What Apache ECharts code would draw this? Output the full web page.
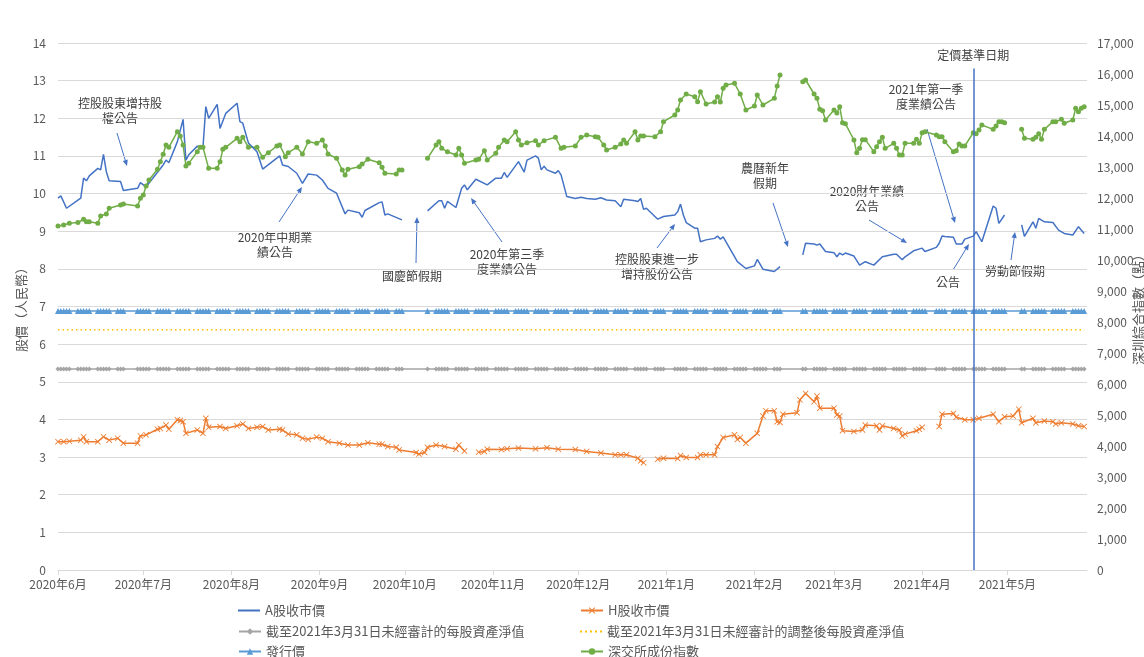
<!DOCTYPE html>
<html>
<head>
<meta charset="utf-8">
<title>股價走勢</title>
<script src="https://cdn.jsdelivr.net/npm/echarts@6/dist/echarts.min.js"></script>
<style>
  html, body { margin: 0; padding: 0; background: #fff; }
  #chart { width: 1144px; height: 657px; }
</style>
</head>
<body>
<div id="chart"></div>
<script>
// 常數線（人民幣）
const ISSUE_PRICE = 6.88;
const NAV = 5.34;
const ADJ_NAV = 6.38;

// A股交易所休市日（工作日）
const HOLIDAYS = ['2020-06-25', '2020-06-26', '2020-10-01', '2020-10-02', '2020-10-05', '2020-10-06',
    '2020-10-07', '2020-10-08', '2021-01-01', '2021-02-11', '2021-02-12', '2021-02-15', '2021-02-16',
    '2021-02-17', '2021-04-05', '2021-05-03', '2021-05-04', '2021-05-05'];

const FIRST_DAY = '2020-06-01';
const LAST_DAY = '2021-05-28';

// A股收市價
const aShare = [
    ['2020-06-01', 9.88], ['2020-06-02', 9.94], ['2020-06-04', 9.61], ['2020-06-09', 9.88], ['2020-06-10', 10.41],
    ['2020-06-11', 10.34], ['2020-06-12', 10.47], ['2020-06-15', 10.67], ['2020-06-16', 10.63], ['2020-06-17', 11.04],
    ['2020-06-18', 10.58], ['2020-06-19', 10.34], ['2020-06-23', 10.32], ['2020-06-24', 10.08], ['2020-06-29', 10.14],
    ['2020-06-30', 10.29], ['2020-07-02', 10.18], ['2020-07-08', 10.76], ['2020-07-09', 10.89], ['2020-07-10', 10.82],
    ['2020-07-13', 11.38], ['2020-07-15', 11.97], ['2020-07-16', 10.89], ['2020-07-17', 11.03], ['2020-07-20', 11.26],
    ['2020-07-22', 11.23], ['2020-07-23', 12.31], ['2020-07-24', 12.00], ['2020-07-27', 12.37], ['2020-07-28', 11.73],
    ['2020-07-30', 12.13], ['2020-08-03', 12.40], ['2020-08-04', 11.91], ['2020-08-05', 11.87], ['2020-08-07', 11.34],
    ['2020-08-10', 11.11], ['2020-08-12', 10.65], ['2020-08-18', 11.00], ['2020-08-19', 10.76], ['2020-08-21', 10.72],
    ['2020-08-24', 10.54], ['2020-08-26', 10.27], ['2020-08-28', 10.52], ['2020-08-31', 10.49], ['2020-09-02', 10.36],
    ['2020-09-04', 10.14], ['2020-09-07', 10.01], ['2020-09-10', 9.46], ['2020-09-11', 9.56], ['2020-09-15', 9.49],
    ['2020-09-16', 9.37], ['2020-09-17', 9.55], ['2020-09-22', 9.76], ['2020-09-23', 9.78], ['2020-09-24', 9.43],
    ['2020-09-25', 9.46], ['2020-09-30', 9.30], ['2020-10-01', null],
    ['2020-10-09', 9.54], ['2020-10-13', 9.81], ['2020-10-14', 9.81], ['2020-10-15', 9.61], ['2020-10-16', 9.79],
    ['2020-10-19', 9.63], ['2020-10-21', 10.14], ['2020-10-22', 10.23], ['2020-10-23', 10.10], ['2020-10-26', 10.38],
    ['2020-10-30', 10.23], ['2020-11-02', 10.41], ['2020-11-04', 10.41], ['2020-11-05', 10.56], ['2020-11-06', 10.43],
    ['2020-11-10', 10.85], ['2020-11-12', 10.57], ['2020-11-13', 10.89], ['2020-11-16', 11.00], ['2020-11-17', 10.94],
    ['2020-11-18', 10.63], ['2020-11-19', 10.73], ['2020-11-20', 10.63], ['2020-11-23', 10.54], ['2020-11-24', 10.61],
    ['2020-11-25', 10.49], ['2020-11-27', 9.92], ['2020-11-30', 9.87], ['2020-12-02', 9.90], ['2020-12-04', 9.87],
    ['2020-12-07', 9.85], ['2020-12-09', 9.89], ['2020-12-11', 9.83], ['2020-12-14', 9.81], ['2020-12-16', 9.65],
    ['2020-12-17', 9.85], ['2020-12-21', 9.81], ['2020-12-22', 9.79], ['2020-12-23', 9.87], ['2020-12-24', 9.58],
    ['2020-12-25', 9.61], ['2020-12-29', 9.32], ['2020-12-31', 9.39], ['2021-01-04', 9.43], ['2021-01-05', 9.52],
    ['2021-01-06', 9.72], ['2021-01-07', 9.43], ['2021-01-08', 9.23], ['2021-01-11', 9.08], ['2021-01-12', 9.08],
    ['2021-01-13', 8.72], ['2021-01-15', 8.77], ['2021-01-18', 8.81], ['2021-01-19', 8.87], ['2021-01-20', 8.79],
    ['2021-01-21', 8.85], ['2021-01-26', 8.19], ['2021-01-29', 8.01], ['2021-02-01', 8.08], ['2021-02-02', 8.25],
    ['2021-02-04', 7.99], ['2021-02-08', 7.93], ['2021-02-10', 8.06], ['2021-02-11', null],
    ['2021-02-18', 8.37], ['2021-02-19', 8.68], ['2021-02-22', 8.66], ['2021-02-23', 8.63], ['2021-02-24', 8.66],
    ['2021-02-26', 8.46], ['2021-03-01', 8.43], ['2021-03-02', 8.32], ['2021-03-03', 8.42], ['2021-03-04', 8.37],
    ['2021-03-05', 8.42], ['2021-03-08', 8.34], ['2021-03-10', 8.10], ['2021-03-12', 8.19], ['2021-03-15', 8.10],
    ['2021-03-18', 8.32], ['2021-03-22', 8.39], ['2021-03-23', 8.39], ['2021-03-25', 8.24], ['2021-03-26', 8.32],
    ['2021-03-29', 8.48], ['2021-04-01', 8.55], ['2021-04-02', 8.46], ['2021-04-06', 8.57], ['2021-04-07', 8.68],
    ['2021-04-08', 8.87], ['2021-04-09', 8.86], ['2021-04-12', 8.84], ['2021-04-13', 8.66], ['2021-04-15', 8.66],
    ['2021-04-16', 8.79], ['2021-04-19', 8.87], ['2021-04-20', 8.99], ['2021-04-22', 8.72], ['2021-04-26', 9.67],
    ['2021-04-27', 9.61], ['2021-04-28', 9.21], ['2021-04-30', 9.43], ['2021-05-03', null],
    ['2021-05-06', 9.17], ['2021-05-07', 8.86], ['2021-05-10', 9.25], ['2021-05-11', 9.08], ['2021-05-12', 9.34],
    ['2021-05-14', 9.25], ['2021-05-17', 9.23], ['2021-05-19', 9.03], ['2021-05-21', 8.94], ['2021-05-24', 8.90],
    ['2021-05-26', 9.12], ['2021-05-28', 8.94]
];

// H股收市價（折合人民幣）
const hShare = [
    ['2020-06-01', 3.41], ['2020-06-03', 3.41], ['2020-06-05', 3.42], ['2020-06-09', 3.45], ['2020-06-10', 3.54],
    ['2020-06-11', 3.41], ['2020-06-15', 3.41], ['2020-06-17', 3.54], ['2020-06-19', 3.45], ['2020-06-22', 3.50],
    ['2020-06-24', 3.37], ['2020-06-29', 3.37], ['2020-06-30', 3.56], ['2020-07-02', 3.59], ['2020-07-06', 3.74],
    ['2020-07-07', 3.76], ['2020-07-09', 3.85], ['2020-07-10', 3.74], ['2020-07-13', 3.99], ['2020-07-14', 3.97],
    ['2020-07-15', 3.94], ['2020-07-16', 3.63], ['2020-07-20', 3.72], ['2020-07-22', 3.63], ['2020-07-23', 4.03],
    ['2020-07-24', 3.79], ['2020-07-28', 3.81], ['2020-07-30', 3.76], ['2020-08-03', 3.83], ['2020-08-05', 3.88],
    ['2020-08-07', 3.76], ['2020-08-10', 3.79], ['2020-08-12', 3.81], ['2020-08-14', 3.72], ['2020-08-18', 3.74],
    ['2020-08-19', 3.72], ['2020-08-21', 3.61], ['2020-08-24', 3.59], ['2020-08-26', 3.50], ['2020-08-28', 3.47],
    ['2020-08-31', 3.53], ['2020-09-02', 3.50], ['2020-09-04', 3.41], ['2020-09-08', 3.37], ['2020-09-11', 3.32],
    ['2020-09-15', 3.32], ['2020-09-18', 3.38], ['2020-09-22', 3.34], ['2020-09-23', 3.34], ['2020-09-25', 3.28],
    ['2020-09-28', 3.26], ['2020-09-29', 3.19], ['2020-10-05', 3.12], ['2020-10-06', 3.08], ['2020-10-08', 3.12],
    ['2020-10-09', 3.26], ['2020-10-12', 3.32], ['2020-10-15', 3.28], ['2020-10-19', 3.21], ['2020-10-20', 3.32],
    ['2020-10-22', 3.16], ['2020-10-26', null], ['2020-10-27', 3.13], ['2020-10-29', 3.15], ['2020-10-30', 3.21],
    ['2020-11-04', 3.20], ['2020-11-06', 3.22], ['2020-11-10', 3.24], ['2020-11-16', 3.22], ['2020-11-20', 3.25],
    ['2020-11-24', 3.21], ['2020-11-30', 3.20], ['2020-12-04', 3.15], ['2020-12-09', 3.11], ['2020-12-14', 3.06],
    ['2020-12-16', 3.06], ['2020-12-18', 3.06], ['2020-12-22', 2.97], ['2020-12-23', 2.90], ['2020-12-24', 2.85],
    ['2020-12-25', null], ['2020-12-29', 2.94], ['2020-12-31', 2.97], ['2021-01-05', 2.96], ['2021-01-06', 3.04],
    ['2021-01-08', 2.99], ['2021-01-12', 2.99], ['2021-01-13', 3.06], ['2021-01-15', 3.06], ['2021-01-18', 3.06],
    ['2021-01-19', 3.28], ['2021-01-21', 3.52], ['2021-01-25', 3.59], ['2021-01-26', 3.47], ['2021-01-27', 3.52],
    ['2021-01-29', 3.37], ['2021-02-02', 3.63], ['2021-02-04', 4.09], ['2021-02-05', 4.23], ['2021-02-08', 4.23],
    ['2021-02-09', 3.94], ['2021-02-10', 3.92], ['2021-02-11', 4.14], ['2021-02-16', 4.18], ['2021-02-17', 4.52],
    ['2021-02-19', 4.69], ['2021-02-22', 4.47], ['2021-02-23', 4.62], ['2021-02-24', 4.30], ['2021-03-01', 4.30],
    ['2021-03-02', 4.12], ['2021-03-03', 4.09], ['2021-03-04', 3.70], ['2021-03-08', 3.68], ['2021-03-11', 3.72],
    ['2021-03-12', 3.85], ['2021-03-16', 3.83], ['2021-03-17', 3.72], ['2021-03-18', 3.83], ['2021-03-22', 3.76],
    ['2021-03-24', 3.72], ['2021-03-25', 3.56], ['2021-03-26', 3.61], ['2021-03-30', 3.70], ['2021-03-31', 3.74],
    ['2021-04-01', 3.79], ['2021-04-02', null], ['2021-04-07', 3.81], ['2021-04-08', 4.14], ['2021-04-12', 4.16],
    ['2021-04-13', 4.06], ['2021-04-16', 3.99], ['2021-04-19', 3.99], ['2021-04-21', 4.03], ['2021-04-26', 4.14],
    ['2021-04-28', 3.94], ['2021-04-30', 4.07], ['2021-05-03', 4.09], ['2021-05-05', 4.27], ['2021-05-06', 3.91],
    ['2021-05-10', 4.03], ['2021-05-11', 3.91], ['2021-05-14', 3.96], ['2021-05-17', 3.94], ['2021-05-18', 3.88],
    ['2021-05-20', 3.91], ['2021-05-24', 3.88], ['2021-05-26', 3.83], ['2021-05-28', 3.81]
];

// 深交所成份指數（點）
const szIndex = [
    ['2020-06-01', 11097], ['2020-06-03', 11129], ['2020-06-05', 11183], ['2020-06-08', 11210], ['2020-06-10', 11312],
    ['2020-06-11', 11237], ['2020-06-12', 11237], ['2020-06-15', 11183], ['2020-06-16', 11419], ['2020-06-18', 11484],
    ['2020-06-19', 11667], ['2020-06-23', 11774], ['2020-06-24', 11806], ['2020-06-29', 11742], ['2020-06-30', 11990],
    ['2020-07-01', 12097], ['2020-07-02', 12387], ['2020-07-03', 12581], ['2020-07-06', 12925], ['2020-07-07', 13171],
    ['2020-07-08', 13410], ['2020-07-09', 13710], ['2020-07-10', 13635], ['2020-07-13', 14139], ['2020-07-14', 14000],
    ['2020-07-15', 13710], ['2020-07-16', 13032], ['2020-07-17', 13118], ['2020-07-20', 13495], ['2020-07-21', 13635],
    ['2020-07-22', 13635], ['2020-07-24', 12957], ['2020-07-27', 12957], ['2020-07-28', 13171], ['2020-07-29', 13570],
    ['2020-07-30', 13635], ['2020-08-03', 13925], ['2020-08-04', 13818], ['2020-08-05', 13957], ['2020-08-07', 13635],
    ['2020-08-10', 13635], ['2020-08-12', 13312], ['2020-08-14', 13462], ['2020-08-17', 13677], ['2020-08-18', 13710],
    ['2020-08-20', 13333], ['2020-08-21', 13462], ['2020-08-24', 13635], ['2020-08-26', 13419], ['2020-08-28', 13816],
    ['2020-08-31', 13763], ['2020-09-02', 13871], ['2020-09-03', 13677], ['2020-09-04', 13419], ['2020-09-07', 13280],
    ['2020-09-09', 12903], ['2020-09-10', 12742], ['2020-09-11', 12925], ['2020-09-15', 13010], ['2020-09-16', 13097],
    ['2020-09-18', 13248], ['2020-09-22', 13140], ['2020-09-23', 12990], ['2020-09-24', 12796], ['2020-09-28', 12774],
    ['2020-09-29', 12903], ['2020-09-30', 12903], ['2020-10-01', null],
    ['2020-10-09', 13280], ['2020-10-12', 13710], ['2020-10-13', 13816], ['2020-10-14', 13602], ['2020-10-16', 13494],
    ['2020-10-19', 13387], ['2020-10-20', 13602], ['2020-10-21', 13387], ['2020-10-22', 13119], ['2020-10-26', 13226],
    ['2020-10-27', 13247], ['2020-10-29', 13526], ['2020-10-30', 13226], ['2020-11-02', 13441], ['2020-11-03', 13634],
    ['2020-11-05', 13871], ['2020-11-06', 13817], ['2020-11-09', 14139], ['2020-11-10', 13871], ['2020-11-11', 13710],
    ['2020-11-13', 13785], ['2020-11-16', 13850], ['2020-11-17', 13710], ['2020-11-19', 13850], ['2020-11-23', 13957],
    ['2020-11-25', 13602], ['2020-11-26', 13634], ['2020-11-30', 13677], ['2020-12-02', 13957], ['2020-12-04', 14032],
    ['2020-12-07', 13978], ['2020-12-08', 13957], ['2020-12-10', 13710], ['2020-12-11', 13548], ['2020-12-14', 13635],
    ['2020-12-16', 13742], ['2020-12-17', 13871], ['2020-12-18', 13763], ['2020-12-21', 14139], ['2020-12-22', 13871],
    ['2020-12-23', 14000], ['2020-12-24', 14000], ['2020-12-28', 13978], ['2020-12-30', 14139], ['2020-12-31', 14462],
    ['2021-01-04', 14677], ['2021-01-05', 14839], ['2021-01-06', 15161], ['2021-01-08', 15355], ['2021-01-11', 15269],
    ['2021-01-12', 15108], ['2021-01-13', 15430], ['2021-01-15', 15032], ['2021-01-18', 15097], ['2021-01-19', 15269],
    ['2021-01-20', 15097], ['2021-01-21', 15539], ['2021-01-22', 15645], ['2021-01-25', 15699], ['2021-01-27', 15355],
    ['2021-01-29', 14839], ['2021-02-01', 14968], ['2021-02-02', 15323], ['2021-02-04', 15000], ['2021-02-08', 15215],
    ['2021-02-09', 15613], ['2021-02-10', 15968], ['2021-02-11', null],
    ['2021-02-18', 15752], ['2021-02-19', 15806], ['2021-02-22', 15355], ['2021-02-23', 15215], ['2021-02-24', 14861],
    ['2021-02-25', 14817], ['2021-02-26', 14516], ['2021-03-01', 14839], ['2021-03-02', 14742], ['2021-03-03', 14946],
    ['2021-03-04', 14430], ['2021-03-05', 14397], ['2021-03-08', 13871], ['2021-03-09', 13462], ['2021-03-10', 13602],
    ['2021-03-11', 13882], ['2021-03-12', 13882], ['2021-03-15', 13494], ['2021-03-16', 13656], ['2021-03-17', 13817],
    ['2021-03-18', 13957], ['2021-03-19', 13602], ['2021-03-22', 13763], ['2021-03-23', 13602], ['2021-03-24', 13387],
    ['2021-03-25', 13387], ['2021-03-26', 13763], ['2021-03-29', 13763], ['2021-03-30', 13893], ['2021-03-31', 13763],
    ['2021-04-01', 14107], ['2021-04-02', 14139], ['2021-04-06', 14032], ['2021-04-07', 13978], ['2021-04-08', 13978],
    ['2021-04-09', 13817], ['2021-04-12', 13494], ['2021-04-13', 13527], ['2021-04-14', 13742], ['2021-04-15', 13677],
    ['2021-04-16', 13677], ['2021-04-19', 14107], ['2021-04-20', 14075], ['2021-04-21', 14194], ['2021-04-22', 14355],
    ['2021-04-26', 14215], ['2021-04-27', 14322], ['2021-04-28', 14462], ['2021-04-29', 14462], ['2021-04-30', 14430],
    ['2021-05-03', null],
    ['2021-05-06', 14215], ['2021-05-07', 13925], ['2021-05-10', 13893], ['2021-05-11', 13957], ['2021-05-12', 14075],
    ['2021-05-13', 13893], ['2021-05-14', 14215], ['2021-05-17', 14462], ['2021-05-18', 14462], ['2021-05-20', 14538],
    ['2021-05-21', 14409], ['2021-05-24', 14516], ['2021-05-25', 14893], ['2021-05-26', 14785], ['2021-05-27', 14893],
    ['2021-05-28', 14946]
];

const PRICING_DATE = '2021-04-19';

// 註解文字與箭頭（像素位置）
const notes = [
    { text: '控股股東增持股\n權公告', x: 120, y: 111, arrow: [117, 133, 127, 166] },
    { text: '2020年中期業\n績公告', x: 275, y: 245, arrow: [279, 222, 302, 187] },
    { text: '國慶節假期', x: 412, y: 276, arrow: [416, 263, 417, 217] },
    { text: '2020年第三季\n度業績公告', x: 507, y: 262, arrow: [502, 242, 471, 198] },
    { text: '控股股東進一步\n增持股份公告', x: 657, y: 267, arrow: [657, 248, 675, 224] },
    { text: '農曆新年\n假期', x: 765, y: 176, arrow: [773, 203, 788, 247] },
    { text: '2020財年業績\n公告', x: 867, y: 199, arrow: [869, 220, 907, 243] },
    { text: '2021年第一季\n度業績公告', x: 926, y: 97, arrow: [927, 129, 955, 223] },
    { text: '公告', x: 948, y: 282, arrow: [953, 270, 969, 244] },
    { text: '勞動節假期', x: 1015, y: 271, arrow: [1011, 260, 1015, 232] }
];

// 圖例：兩欄三行
const legendItems = [
    { name: 'A股收市價', left: 238, top: 604, icon: 'rect', itemHeight: 2 },
    { name: 'H股收市價', left: 580, top: 604 },
    { name: '截至2021年3月31日未經審計的每股資產淨值', left: 238, top: 625 },
    { name: '截至2021年3月31日未經審計的調整後每股資產淨值', left: 580, top: 625,
        icon: 'path://M0,0h2v2h-2zM5,0h2v2h-2zM10,0h2v2h-2zM15,0h2v2h-2zM20,0h2v2h-2z', itemHeight: 2 },
    { name: '發行價', left: 238, top: 645 },
    { name: '深交所成份指數', left: 580, top: 645 }
];

const FONT = '"Noto Sans CJK TC", "Noto Sans", sans-serif';

function toData(list) {
    return list.map(([d, v]) => [d, v === null ? '-' : v]);
}

function pad(n) {
    return n < 10 ? '0' + n : '' + n;
}

// A股交易日
function tradingDays() {
    const out = [];
    const d = new Date(FIRST_DAY + 'T00:00:00');
    const end = new Date(LAST_DAY + 'T00:00:00');
    while (d <= end) {
        const s = d.getFullYear() + '-' + pad(d.getMonth() + 1) + '-' + pad(d.getDate());
        const wd = d.getDay();
        if (wd !== 0 && wd !== 6 && HOLIDAYS.indexOf(s) < 0) out.push(s);
        d.setDate(d.getDate() + 1);
    }
    return out;
}

function arrow(x1, y1, x2, y2) {
    const a = Math.atan2(y2 - y1, x2 - x1);
    const L = 6, W = 2.6;
    const bx = x2 - L * Math.cos(a), by = y2 - L * Math.sin(a);
    return [
        { type: 'line', shape: { x1: x1, y1: y1, x2: bx, y2: by }, style: { stroke: '#4472c4', lineWidth: 1 } },
        {
            type: 'polygon',
            shape: { points: [[x2, y2], [bx + W * Math.sin(a), by - W * Math.cos(a)], [bx - W * Math.sin(a), by + W * Math.cos(a)]] },
            style: { fill: '#4472c4' }
        }
    ];
}

const days = tradingDays();
const graphics = [];
notes.forEach(n => {
    graphics.push({
        type: 'text', x: n.x, y: n.y,
        style: { text: n.text, fill: '#404040', font: '12px ' + FONT, align: 'center', verticalAlign: 'middle', lineHeight: 15 }
    });
    arrow.apply(null, n.arrow).forEach(g => graphics.push(g));
});

const legends = legendItems.map(it => ({
    left: it.left, top: it.top, padding: 0,
    itemWidth: 22, itemHeight: it.itemHeight || 8, itemGap: 0,
    icon: it.icon,
    textStyle: { color: '#595959', fontSize: 13, fontFamily: FONT },
    data: [it.name]
}));

const X_MARK = 'path://M0,1L1,0L5,4L9,0L10,1L6,5L10,9L9,10L5,6L1,10L0,9L4,5Z';

const chart = echarts.init(document.getElementById('chart'));
const option = {
    animation: false,
    backgroundColor: '#fff',
    textStyle: { fontFamily: FONT },
    grid: { left: 58, right: 57, top: 43, bottom: 87, outerBoundsMode: 'none' },
    legend: legends,
    xAxis: {
        type: 'time',
        min: FIRST_DAY,
        max: '2021-05-29',
        splitNumber: 12,
        axisLine: { lineStyle: { color: '#d9d9d9' } },
        axisTick: { show: true, length: 5, lineStyle: { color: '#d9d9d9' } },
        splitLine: { show: false },
        axisLabel: {
            color: '#595959', fontSize: 12, margin: 8, fontFamily: FONT,
            formatter: function (val) {
                const d = new Date(val);
                return d.getFullYear() + '年' + (d.getMonth() + 1) + '月';
            }
        }
    },
    yAxis: [
        {
            type: 'value', min: 0, max: 14, interval: 1,
            name: '股價（人民幣）', nameLocation: 'middle', nameGap: 30, nameRotate: 90,
            nameMoveOverlap: false,
            nameTextStyle: { color: '#595959', fontSize: 13, fontFamily: FONT },
            axisLine: { show: false }, axisTick: { show: false },
            axisLabel: { color: '#595959', fontSize: 12, margin: 12, fontFamily: FONT },
            splitLine: { lineStyle: { color: '#d9d9d9' } }
        },
        {
            type: 'value', min: 0, max: 17000, interval: 1000,
            name: '深圳綜合指數（點）', nameLocation: 'middle', nameGap: 45, nameRotate: 90,
            nameMoveOverlap: false,
            nameTextStyle: { color: '#595959', fontSize: 13, fontFamily: FONT },
            axisLine: { show: false }, axisTick: { show: false },
            axisLabel: {
                color: '#595959', fontSize: 12, margin: 10, fontFamily: FONT,
                formatter: v => v.toLocaleString('en-US')
            },
            splitLine: { show: false }
        }
    ],
    series: [
        {
            name: '截至2021年3月31日未經審計的每股資產淨值', type: 'line', yAxisIndex: 0,
            data: days.map(d => [d, NAV]),
            symbol: 'diamond', symbolSize: 5, showAllSymbol: true,
            lineStyle: { color: '#a5a5a5', width: 1.5 }, itemStyle: { color: '#a5a5a5' }
        },
        {
            name: '截至2021年3月31日未經審計的調整後每股資產淨值', type: 'line', yAxisIndex: 0,
            data: days.map(d => [d, ADJ_NAV]),
            symbol: 'none',
            lineStyle: { color: '#ffc000', width: 1.5, type: [1.5, 3] }, itemStyle: { color: '#ffc000' }
        },
        {
            name: '發行價', type: 'line', yAxisIndex: 0,
            data: days.map(d => [d, ISSUE_PRICE]),
            symbol: 'triangle', symbolSize: 6, showAllSymbol: true,
            lineStyle: { color: '#5b9bd5', width: 1.5 }, itemStyle: { color: '#5b9bd5' }
        },
        {
            name: 'H股收市價', type: 'line', yAxisIndex: 0,
            data: toData(hShare),
            symbol: X_MARK, symbolSize: 6, showAllSymbol: true,
            lineStyle: { color: '#ed7d31', width: 1.5 }, itemStyle: { color: '#ed7d31' }
        },
        {
            name: '深交所成份指數', type: 'line', yAxisIndex: 1,
            data: toData(szIndex),
            symbol: 'circle', symbolSize: 5, showAllSymbol: true,
            lineStyle: { color: '#70ad47', width: 1.5 }, itemStyle: { color: '#70ad47' }
        },
        {
            name: 'A股收市價', type: 'line', yAxisIndex: 0,
            data: toData(aShare),
            symbol: 'none',
            lineStyle: { color: '#4472c4', width: 1.5 }, itemStyle: { color: '#4472c4' },
            markLine: {
                silent: true, symbol: 'none',
                lineStyle: { color: '#4472c4', width: 1.5, type: 'solid' },
                label: {
                    show: true, position: 'end', formatter: '定價基準日期', distance: 7,
                    color: '#404040', fontSize: 12, fontFamily: FONT
                },
                data: [[{ coord: [PRICING_DATE, 0] }, { coord: [PRICING_DATE, 13.32] }]]
            }
        }
    ],
    graphic: graphics
};
chart.setOption(option);
</script>
</body>
</html>
